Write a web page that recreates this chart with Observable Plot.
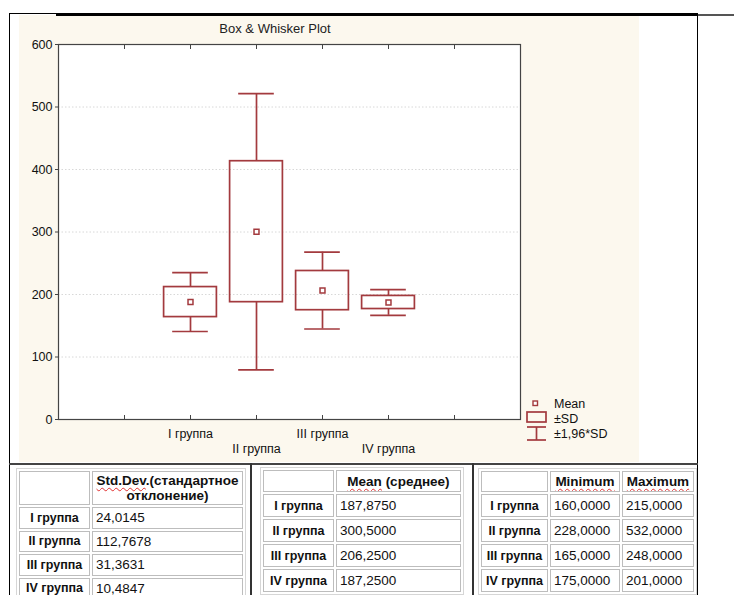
<!DOCTYPE html>
<html><head><meta charset="utf-8">
<script src="https://cdn.jsdelivr.net/npm/d3@7"></script>
<script src="https://cdn.jsdelivr.net/npm/@observablehq/plot@0.6"></script>
<style>
html,body{margin:0;padding:0;background:#fff;}
body{width:734px;height:595px;overflow:hidden;position:relative;font-family:"Liberation Sans",Arial,Helvetica,sans-serif;color:#111;}
.abs{position:absolute;}
#beige{left:19px;top:15px;width:620px;height:447px;background:#fcf8ee;}
#chart{left:19px;top:15px;}
#title{left:175px;width:200px;top:21px;text-align:center;font-size:13px;color:#222;}
#legend{left:520px;top:395px;}
table.t{position:absolute;border-collapse:separate;border-spacing:2px;border:1px solid #d6d6d6;background:#fff;table-layout:fixed;}
table.t td{border:1px solid #bdbdbd;padding:0 3px;font-size:13.5px;white-space:nowrap;overflow:hidden;box-sizing:border-box;}
table.t td.lab{font-weight:bold;font-size:12.5px;text-align:center;padding:0 1px;}
table.t td.head{font-weight:bold;font-size:13.5px;text-align:center;line-height:15px;}
.wavy{text-decoration:underline wavy #e03030;text-decoration-thickness:1px;text-underline-offset:2px;}
</style></head><body>
<div id="beige" class="abs"></div>
<div class="abs" style="left:9px;top:13px;width:689px;height:1px;background:#000"></div>
<div class="abs" style="left:56px;top:13px;width:642px;height:2.5px;background:#000"></div>
<div class="abs" style="left:698px;top:14px;width:36px;height:1.5px;background:#555"></div>
<div class="abs" style="left:9px;top:13px;width:1.3px;height:582px;background:#000"></div>
<div class="abs" style="left:697px;top:13px;width:1.3px;height:582px;background:#000"></div>
<div class="abs" style="left:9px;top:463px;width:689px;height:1.6px;background:#444"></div>
<div class="abs" style="left:250px;top:463px;width:1.5px;height:132px;background:#333"></div>
<div class="abs" style="left:472px;top:463px;width:1.5px;height:132px;background:#333"></div>
<div id="chart" class="abs"></div>
<div id="title" class="abs">Box &amp; Whisker Plot</div>
<div id="legend" class="abs"></div>
<div id="tables"></div>
<script>
// ---- data ----
const groups = ["I группа", "II группа", "III группа", "IV группа"];
const means = [187.875, 300.5, 206.25, 187.25];
const stdDevs = [24.0145, 112.7678, 31.3631, 10.4847];
const minimums = [160, 228, 165, 175];
const maximums = [215, 532, 248, 201];
const yTicks = [0, 100, 200, 300, 400, 500, 600];
const legendLabels = ["Mean", "±SD", "±1,96*SD"];
const sdFactor = 1.96;
const slotCount = 7;       // category slots along the x axis
const firstSlot = 2;       // first group sits on the second slot tick

const color = "#a33a3e";
const rows = groups.map((g, i) => ({g, pos: firstSlot + i, mean: means[i], sd: stdDevs[i]}));
const boxHalf = 0.4, capHalf = 0.27;
const lw = 1.7;

const chart = Plot.plot({
  width: 620, height: 447,
  marginLeft: 39, marginRight: 119, marginTop: 29, marginBottom: 43,
  style: {background: "transparent", fontFamily: "Liberation Sans, Arial, sans-serif", fontSize: "12px", color: "#111", overflow: "visible"},
  x: {domain: [0, slotCount], axis: null, label: null},
  y: {domain: [0, 600], axis: null, label: null},
  marks: [
    Plot.frame({fill: "white", stroke: null}),
    Plot.gridY(yTicks.slice(1, -1), {stroke: "#c8c8c8", strokeOpacity: 0.7, strokeDasharray: "1.5,2"}),
    Plot.axisX(d3.range(1, slotCount), {anchor: "bottom", tickSize: -4, tickFormat: () => "", stroke: "#444", label: null}),
    Plot.axisX(d3.range(1, slotCount), {anchor: "top", tickSize: -4, tickFormat: () => "", stroke: "#444", label: null}),
    Plot.axisY(yTicks, {anchor: "left", tickSize: 3, tickPadding: 3, fontSize: 12.5, stroke: "#444", label: null}),
    Plot.frame({stroke: "#444", strokeWidth: 1.2}),
    Plot.ruleX(rows, {x: "pos", y1: d => d.mean + d.sd, y2: d => d.mean + sdFactor * d.sd, stroke: color, strokeWidth: lw}),
    Plot.ruleX(rows, {x: "pos", y1: d => d.mean - d.sd, y2: d => d.mean - sdFactor * d.sd, stroke: color, strokeWidth: lw}),
    Plot.ruleY(rows, {y: d => d.mean + sdFactor * d.sd, x1: d => d.pos - capHalf, x2: d => d.pos + capHalf, stroke: color, strokeWidth: lw}),
    Plot.ruleY(rows, {y: d => d.mean - sdFactor * d.sd, x1: d => d.pos - capHalf, x2: d => d.pos + capHalf, stroke: color, strokeWidth: lw}),
    Plot.rect(rows, {x1: d => d.pos - boxHalf, x2: d => d.pos + boxHalf, y1: d => d.mean - d.sd, y2: d => d.mean + d.sd, stroke: color, strokeWidth: lw, fill: "none"}),
    Plot.dot(rows, {x: "pos", y: "mean", symbol: "square", r: 2.8, stroke: color, fill: "white", strokeWidth: 1.5}),
    Plot.text(rows.filter((d, i) => i % 2 === 0), {x: "pos", text: "g", frameAnchor: "bottom", dy: 18, fontSize: 12.5, fill: "#111"}),
    Plot.text(rows.filter((d, i) => i % 2 === 1), {x: "pos", text: "g", frameAnchor: "bottom", dy: 33, fontSize: 12.5, fill: "#111"})
  ]
});
document.getElementById("chart").appendChild(chart);

// ---- legend ----
const lg = d3.select("#legend").append("svg").attr("width", 120).attr("height", 50)
  .style("font-family", "Liberation Sans, Arial, sans-serif").style("font-size", "12.5px");
lg.append("rect").attr("x", 13).attr("y", 6).attr("width", 4.5).attr("height", 4.5)
  .attr("fill", "white").attr("stroke", color).attr("stroke-width", 1.4);
lg.append("rect").attr("x", 7).attr("y", 17).attr("width", 19).attr("height", 10)
  .attr("fill", "none").attr("stroke", color).attr("stroke-width", lw);
lg.append("line").attr("x1", 7).attr("x2", 26).attr("y1", 32).attr("y2", 32).attr("stroke", color).attr("stroke-width", lw);
lg.append("line").attr("x1", 7).attr("x2", 26).attr("y1", 45).attr("y2", 45).attr("stroke", color).attr("stroke-width", lw);
lg.append("line").attr("x1", 16.5).attr("x2", 16.5).attr("y1", 32).attr("y2", 45).attr("stroke", color).attr("stroke-width", lw);
legendLabels.forEach((t, i) => {
  lg.append("text").attr("x", 34).attr("y", [13, 28, 43][i]).attr("fill", "#111").text(t);
});

// ---- tables ----
const fmt = v => v.toFixed(4).replace(".", ",");
function makeTable(left, top, colWidths, headerHtml, headerH, rowH, columns) {
  const t = document.createElement("table");
  t.className = "t";
  t.style.left = left + "px";
  t.style.top = top + "px";
  const cg = document.createElement("colgroup");
  colWidths.forEach(w => { const c = document.createElement("col"); c.style.width = w + "px"; cg.appendChild(c); });
  t.appendChild(cg);
  const total = colWidths.reduce((a, b) => a + b, 0) + 2 * (colWidths.length + 1) + 2;
  t.style.width = total + "px";
  let html = `<tr style="height:${headerH}px"><td></td>${headerHtml}</tr>`;
  groups.forEach((g, i) => {
    html += `<tr style="height:${rowH}px"><td class="lab">${g}</td>${columns.map(c => `<td>${fmt(c[i])}</td>`).join("")}</tr>`;
  });
  t.insertAdjacentHTML("beforeend", html);
  document.getElementById("tables").appendChild(t);
}
makeTable(16, 468, [71, 151],
  `<td class="head"><span class="wavy">Std.Dev</span>.(стандартное<br>отклонение)</td>`, 34, 21.5, [stdDevs]);
makeTable(260, 467, [71, 125],
  `<td class="head"><span class="wavy">Mean</span> (среднее)</td>`, 22, 23, [means]);
makeTable(478, 468, [67, 70, 72],
  `<td class="head"><span class="wavy">Minimum</span></td><td class="head"><span class="wavy">Maximum</span></td>`, 21, 23, [minimums, maximums]);
</script>
</body></html>
